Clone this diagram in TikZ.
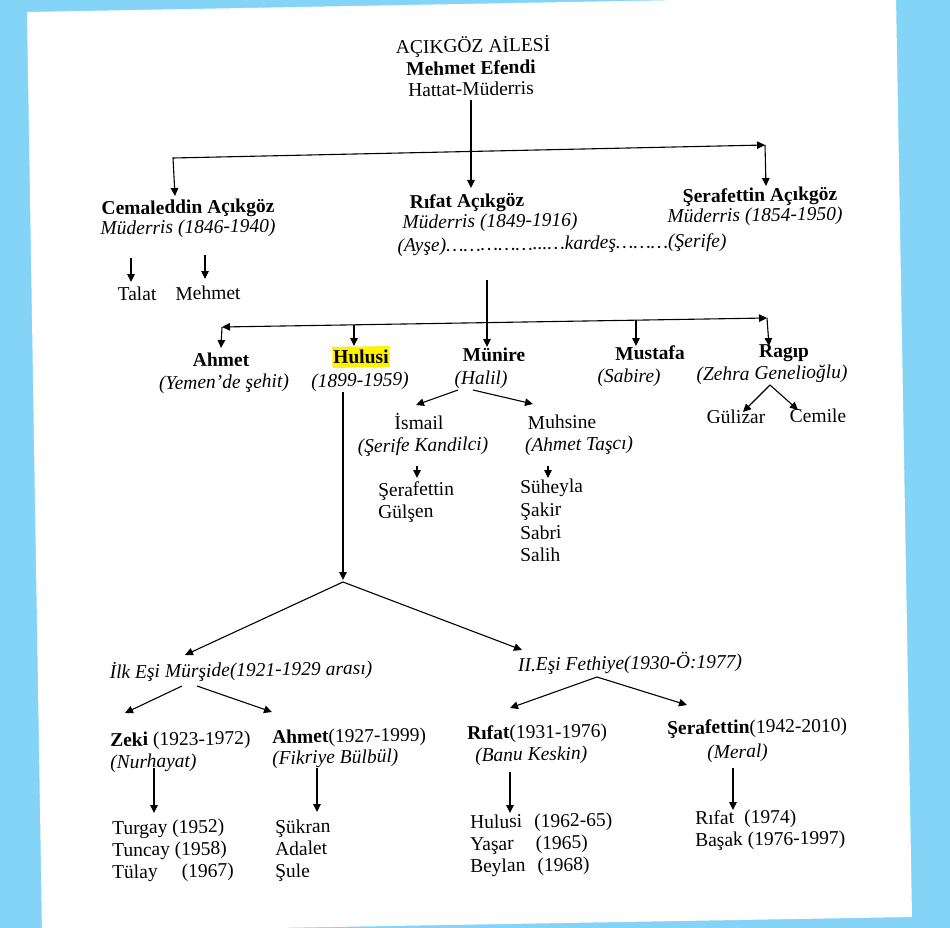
\documentclass[tikz,border=0pt]{standalone}
\usepackage{fontspec}
\setmainfont{Liberation Serif}
\usetikzlibrary{arrows.meta}
\definecolor{skyb}{RGB}{132,212,247}
\definecolor{hly}{RGB}{255,242,0}
\newcommand{\fsz}{\fontsize{19.5}{21}\selectfont}
\begin{document}
\begin{tikzpicture}[x=1pt,y=-1pt,
 txt/.style={inner sep=0pt, text height=13pt, text depth=0pt, font=\fsz, rotate=0.9},
 bt/.style={txt, font=\fsz\bfseries},
 it/.style={txt, font=\fsz\itshape},
 ln/.style={line width=1.1pt},
 arr/.style={ln, -{Triangle[length=8pt,width=7.5pt]}},
 both/.style={ln, {Triangle[length=8pt,width=7.5pt]}-{Triangle[length=8pt,width=7.5pt]}},
]
\useasboundingbox (0,0) rectangle (950,928);
\clip (0,0) rectangle (950,928);
\fill[skyb] (0,0) rectangle (950,928);
\fill[white] (27,12) -- (896,-4) -- (912,917) -- (42,932) -- cycle;

% title
\node[txt] (title) at (473,46) {AÇIKGÖZ AİLESİ};
\node[bt] (mehmet) at (471,68) {Mehmet Efendi};
\node[txt] (hattat) at (471,89) {Hattat-Müderris};

% row 2
\node[bt] (cem) at (188,207) {Cemaleddin Açıkgöz};
\node[it] (cemd) at (188,227) {Müderris (1846-1940)};
\node[bt] (rif) at (467,201) {Rıfat Açıkgöz};
\node[it] (rifd) at (490,221) {Müderris (1849-1916)};
\node[it] (kard) at (562,243) {(Ayşe)……………...…kardeş………(Şerife)};
\node[bt] (ser) at (760,195) {Şerafettin Açıkgöz};
\node[it] (serd) at (755,215) {Müderris (1854-1950)};
\node[txt] (talat) at (137,294) {Talat};
\node[txt] (mehm) at (208,293) {Mehmet};

% row 3
\node[bt] (ahm) at (221,360) {Ahmet};
\node[it] (ahmd) at (224,382) {(Yemen’de şehit)};
\node[bt, fill=hly, inner xsep=1pt, inner ysep=4pt] (hul) at (361,357) {Hulusi};
\node[it] (huld) at (360,380) {(1899-1959)};
\node[bt] (mun) at (494,355) {Münire};
\node[it] (mund) at (481,378) {(Halil)};
\node[bt] (mus) at (650,353) {Mustafa};
\node[it] (musd) at (629,376) {(Sabire)};
\node[bt] (rag) at (784,351) {Ragıp};
\node[it] (ragd) at (772,373) {(Zehra Genelioğlu)};
\node[txt] (guli) at (736,417) {Gülizar};
\node[txt] (cemi) at (818,416) {Cemile};

% Munire children
\node[txt] (ism) at (419,423) {İsmail};
\node[it] (ismd) at (423,445) {(Şerife Kandilci)};
\node[txt, anchor=west] (serf) at (378,490) {Şerafettin};
\node[txt, anchor=west] (gul) at (378,512) {Gülşen};
\node[txt] (muh) at (562,422) {Muhsine};
\node[it] (muhd) at (579,444) {(Ahmet Taşcı)};
\node[txt, anchor=west] (suh) at (520,487) {Süheyla};
\node[txt, anchor=west] (sak) at (520,510) {Şakir};
\node[txt, anchor=west] (sab) at (520,533) {Sabri};
\node[txt, anchor=west] (sal) at (520,555) {Salih};

% Hulusi marriages
\node[it] (ilk) at (241,670) {İlk Eşi Mürşide(1921-1929 arası)};
\node[it] (iki) at (630,663) {II.Eşi Fethiye(1930-Ö:1977)};

\node[txt, anchor=west] (zeki) at (110,740) {\textbf{Zeki} (1923-1972)};
\node[it, anchor=west] (zekid) at (110,762) {(Nurhayat)};
\node[txt, anchor=west] (ahm2) at (272,737) {\textbf{Ahmet}(1927-1999)};
\node[it, anchor=west] (ahm2d) at (272,758) {(Fikriye Bülbül)};
\node[txt, anchor=west] (rif2) at (467,733) {\textbf{Rıfat}(1931-1976)};
\node[it, anchor=west] (rif2d) at (475,755) {(Banu Keskin)};
\node[txt, anchor=west] (ser2) at (667,728) {\textbf{Şerafettin}(1942-2010)};
\node[it, anchor=west] (ser2d) at (707,752) {(Meral)};

% grandchildren
\node[txt, anchor=west] (tur) at (112,828) {Turgay (1952)};
\node[txt, anchor=west] (tun) at (112,850) {Tuncay (1958)};
\node[txt, anchor=west] (tul) at (112,872) {Tülay\hspace{24pt}(1967)};
\node[txt, anchor=west] (suk) at (275,827) {Şükran};
\node[txt, anchor=west] (ada) at (275,849) {Adalet};
\node[txt, anchor=west] (sul) at (275,871) {Şule};
\node[txt, anchor=west] (hul2) at (470,822) {Hulusi\hspace{12pt}(1962-65)};
\node[txt, anchor=west] (yas) at (470,844) {Yaşar\hspace{22pt}(1965)};
\node[txt, anchor=west] (bey) at (470,866) {Beylan\hspace{12pt}(1968)};
\node[txt, anchor=west] (rif3) at (695,818) {Rıfat\hspace{10pt}(1974)};
\node[txt, anchor=west] (bas) at (695,840) {Başak (1976-1997)};

% connector points
\coordinate (c0) at (471,100);
\coordinate (c0e) at (471,188);
\coordinate (hL) at (173,158);
\coordinate (hR) at (765,145);
\coordinate (cemT) at (175,196);
\coordinate (serT) at (766,186);
\coordinate (ta0) at (131,258); \coordinate (ta1) at (131,282);
\coordinate (me0) at (205,255); \coordinate (me1) at (205,279);
\coordinate (rv0) at (487,280); \coordinate (rv1) at (487,347);
\coordinate (r2L) at (222,327); \coordinate (r2R) at (767,318);
\coordinate (ahmT) at (221,348);
\coordinate (hulA) at (354,325); \coordinate (hulT) at (354,346);
\coordinate (musA) at (636,320); \coordinate (musT) at (636,346);
\coordinate (ragT) at (769,346);
\coordinate (ragS) at (770,385); \coordinate (guliT) at (743,412); \coordinate (cemiT) at (798,410);
\coordinate (munS1) at (458,390); \coordinate (ismT) at (416,405);
\coordinate (munS2) at (473,390); \coordinate (muhT) at (533,404);
\coordinate (ismA) at (417,466); \coordinate (ismB) at (417,478);
\coordinate (muhA) at (548,466); \coordinate (muhB) at (548,478);
\coordinate (hv0) at (343,392); \coordinate (hv1) at (343,580);
\coordinate (hap) at (343,582);
\coordinate (ilkT) at (185,655); \coordinate (ikiT) at (522,650);
\coordinate (ilkS1) at (182,686); \coordinate (zekiT) at (125,713);
\coordinate (ilkS2) at (197,686); \coordinate (ahm2T) at (272,712);
\coordinate (fetS) at (597,677); \coordinate (rif2T) at (510,708); \coordinate (ser2T) at (687,705);
\coordinate (zkA) at (154,768); \coordinate (zkB) at (154,813);
\coordinate (a2A) at (317,768); \coordinate (a2B) at (317,812);
\coordinate (rfA) at (510,772); \coordinate (rfB) at (510,813);
\coordinate (s2A) at (733,768); \coordinate (s2B) at (733,810);

% connectors
\draw[arr] (c0) -- (c0e);
\draw[both] (cemT) -- (hL) -- (hR);
\draw[arr] (hR) -- (serT);
\draw[arr] (ta0) -- (ta1);
\draw[arr] (me0) -- (me1);
\draw[arr] (rv0) -- (rv1);
\draw[both] (r2L) -- (r2R);
\draw[arr] (r2L) -- (ahmT);
\draw[arr] (hulA) -- (hulT);
\draw[arr] (musA) -- (musT);
\draw[arr] (r2R) -- (ragT);
\draw[arr] (ragS) -- (guliT);
\draw[arr] (ragS) -- (cemiT);
\draw[arr] (munS1) -- (ismT);
\draw[arr] (munS2) -- (muhT);
\draw[arr] (ismA) -- (ismB);
\draw[arr] (muhA) -- (muhB);
\draw[arr] (hv0) -- (hv1);
\draw[arr] (hap) -- (ilkT);
\draw[arr] (hap) -- (ikiT);
\draw[arr] (ilkS1) -- (zekiT);
\draw[arr] (ilkS2) -- (ahm2T);
\draw[arr] (fetS) -- (rif2T);
\draw[arr] (fetS) -- (ser2T);
\draw[arr] (zkA) -- (zkB);
\draw[arr] (a2A) -- (a2B);
\draw[arr] (rfA) -- (rfB);
\draw[arr] (s2A) -- (s2B);
\end{tikzpicture}
\end{document}
